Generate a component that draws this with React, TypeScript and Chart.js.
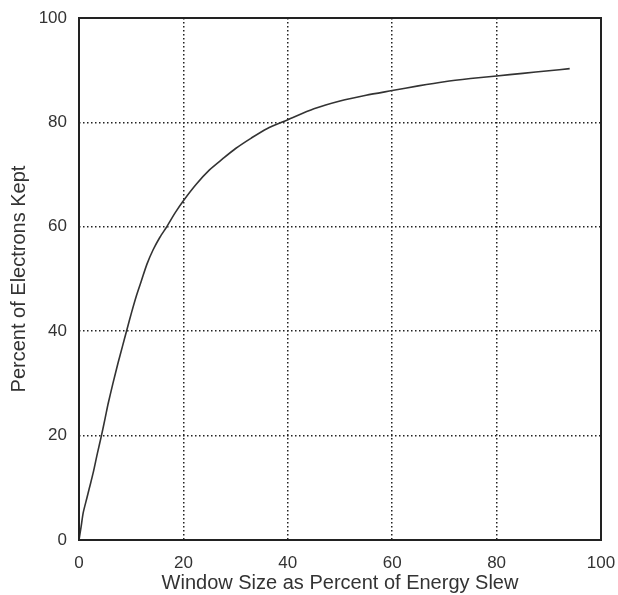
import React, { useEffect, useRef } from "react";
import { Chart, registerables } from "chart.js";

Chart.register(...registerables);

const windowSize = [0, 0.4, 0.8, 1.5, 2.0, 2.7, 3.5, 4.3, 5.0, 5.6, 6.5, 7.5, 8.3, 9.1, 10.1, 11.0, 12.0, 13.0, 14.2, 15.5, 16.8, 18.5, 20, 22.5, 25, 27.5, 30, 33, 36, 40, 45, 50, 55, 60, 65, 70, 75, 80, 85, 90, 94];
const electronsKept = [0, 2.5, 5.2, 8.0, 10.0, 12.8, 16.5, 20.0, 23.3, 26.2, 30.0, 34.0, 37.0, 40.0, 43.7, 46.8, 49.8, 52.8, 55.6, 58.0, 60.0, 62.8, 65.0, 68.2, 70.9, 73.0, 75.0, 77.0, 78.8, 80.5, 82.6, 84.1, 85.2, 86.1, 87.0, 87.8, 88.4, 88.9, 89.4, 89.9, 90.3];
const xTickValues = [0, 20, 40, 60, 80, 100];
const yTickValues = [0, 20, 40, 60, 80, 100];
const xTitle = "Window Size as Percent of Energy Slew";
const yTitle = "Percent of Electrons Kept";

const frame = {
  id: "frame",
  afterDraw(chart: any) {
    const { ctx, chartArea } = chart;
    ctx.save();
    ctx.strokeStyle = "#222";
    ctx.lineWidth = 2;
    ctx.strokeRect(chartArea.left, chartArea.top, chartArea.right - chartArea.left, chartArea.bottom - chartArea.top);
    ctx.restore();
  },
};

export default function App() {
  const ref = useRef<HTMLCanvasElement>(null);
  useEffect(() => {
    document.body.style.margin = "0";
    const points = windowSize.map((x, i) => ({ x, y: electronsKept[i] }));
    const family = "'Liberation Sans', Arial, sans-serif";
    const tickFont = { family, size: 17 };
    const titleFont = { family, size: 20 };
    const chart = new Chart(ref.current!, {
      type: "line",
      data: {
        datasets: [
          {
            data: points,
            borderColor: "#333",
            borderWidth: 1.6,
            pointRadius: 0,
            tension: 0.25,
            fill: false,
          },
        ],
      },
      options: {
        animation: false,
        responsive: false,
        maintainAspectRatio: false,
        layout: { padding: { top: 18, right: 17, left: 0, bottom: 0 } },
        plugins: { legend: { display: false }, tooltip: { enabled: false } },
        scales: {
          x: {
            type: "linear",
            min: 0,
            max: 100,
            afterBuildTicks: (s: any) => { s.ticks = xTickValues.map((v) => ({ value: v })); },
            afterFit: (s: any) => { s.height = 55; s.paddingLeft = 0; s.paddingRight = 0; },
            ticks: { color: "#333", font: tickFont, padding: 13, maxRotation: 0 },
            grid: { color: "#222", lineWidth: 1.5, drawTicks: false },
            border: { display: false, dash: [1.5, 2.5] },
            title: { display: true, text: xTitle, color: "#333", font: titleFont, padding: { top: 0, bottom: 0 } },
          },
          y: {
            type: "linear",
            min: 0,
            max: 100,
            afterBuildTicks: (s: any) => { s.ticks = yTickValues.map((v) => ({ value: v })); },
            afterFit: (s: any) => { s.width = 79; s.paddingTop = 0; s.paddingBottom = 0; },
            ticks: { color: "#333", font: tickFont, padding: 12 },
            grid: { color: "#222", lineWidth: 1.5, drawTicks: false },
            border: { display: false, dash: [1.5, 2.5] },
            title: { display: true, text: yTitle, color: "#333", font: titleFont, padding: { top: 7, bottom: 0 } },
          },
        },
      },
      plugins: [frame],
    });
    return () => chart.destroy();
  }, []);
  return (
    <div style={{ width: 618, height: 595, background: "#fff" }}>
      <canvas ref={ref} width={618} height={595} />
    </div>
  );
}
